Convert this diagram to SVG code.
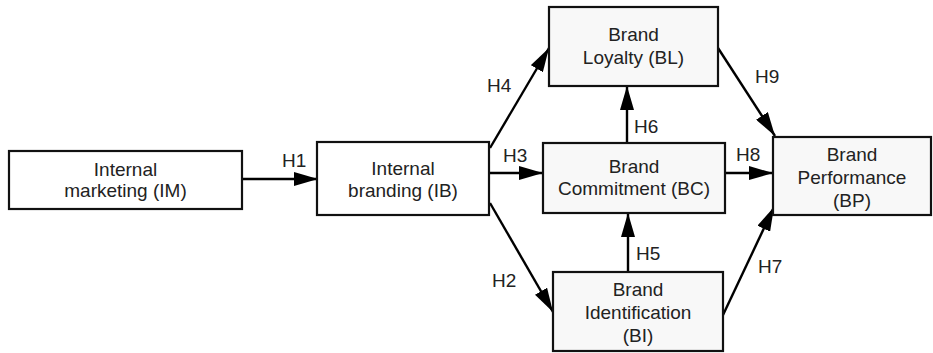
<svg xmlns="http://www.w3.org/2000/svg" width="933" height="353" viewBox="0 0 933 353">
  <defs>
    <marker id="arrow" markerUnits="userSpaceOnUse" markerWidth="24" markerHeight="14" refX="24" refY="7" orient="auto">
      <path d="M0,0 L24,7 L0,14 Z" fill="#000"/>
    </marker>
  </defs>
  <style>
    .box { stroke: #111; stroke-width: 2.2; fill: #ffffff; }
    .box.shade { fill: #f8f8f8; }
    .lbl { font-family: "Liberation Sans", Arial, sans-serif; font-size: 19px; fill: #222; text-anchor: middle; }
    .hyp { font-family: "Liberation Sans", Arial, sans-serif; font-size: 19px; fill: #222; }
    .edge { stroke: #000; stroke-width: 2.4; fill: none; marker-end: url(#arrow); }
  </style>

  <rect width="933" height="353" fill="#ffffff"/>

  <!-- connectors -->
  <g id="connectors">
    <line class="edge" x1="242" y1="179" x2="318" y2="179"/>
    <line class="edge" x1="489" y1="173" x2="543" y2="173"/>
    <line class="edge" x1="490" y1="148" x2="549" y2="48"/>
    <line class="edge" x1="490" y1="203" x2="553" y2="312"/>
    <line class="edge" x1="627" y1="143" x2="627" y2="86"/>
    <line class="edge" x1="628" y1="272" x2="628" y2="213"/>
    <line class="edge" x1="725" y1="173" x2="773" y2="173"/>
    <line class="edge" x1="718" y1="48" x2="775" y2="136"/>
    <line class="edge" x1="723" y1="315" x2="774" y2="207"/>
    <text class="hyp" x="282" y="167">H1</text>
    <text class="hyp" x="503" y="162">H3</text>
    <text class="hyp" x="487" y="92">H4</text>
    <text class="hyp" x="492" y="287">H2</text>
    <text class="hyp" x="634" y="133">H6</text>
    <text class="hyp" x="636" y="260">H5</text>
    <text class="hyp" x="736" y="161">H8</text>
    <text class="hyp" x="755" y="83">H9</text>
    <text class="hyp" x="758" y="273">H7</text>
  </g>

  <!-- nodes -->
  <g id="IM">
    <rect class="box" x="9" y="151" width="233" height="58"/>
    <text class="lbl" x="125.5" y="176">Internal</text>
    <text class="lbl" x="125.5" y="197">marketing (IM)</text>
  </g>
  <g id="IB">
    <rect class="box" x="317" y="142" width="172" height="73"/>
    <text class="lbl" x="403" y="175">Internal</text>
    <text class="lbl" x="403" y="197">branding (IB)</text>
  </g>
  <g id="BL">
    <rect class="box shade" x="549" y="7" width="169" height="79"/>
    <text class="lbl" x="633.5" y="41">Brand</text>
    <text class="lbl" x="633.5" y="64">Loyalty (BL)</text>
  </g>
  <g id="BC">
    <rect class="box shade" x="543" y="143" width="182" height="70"/>
    <text class="lbl" x="634" y="173">Brand</text>
    <text class="lbl" x="634" y="195">Commitment (BC)</text>
  </g>
  <g id="BI">
    <rect class="box shade" x="553" y="272" width="170" height="79"/>
    <text class="lbl" x="638" y="296">Brand</text>
    <text class="lbl" x="638" y="319">Identification</text>
    <text class="lbl" x="638" y="342">(BI)</text>
  </g>
  <g id="BP">
    <rect class="box shade" x="773" y="137" width="158" height="78"/>
    <text class="lbl" x="852" y="161">Brand</text>
    <text class="lbl" x="852" y="184">Performance</text>
    <text class="lbl" x="852" y="207">(BP)</text>
  </g>
</svg>
